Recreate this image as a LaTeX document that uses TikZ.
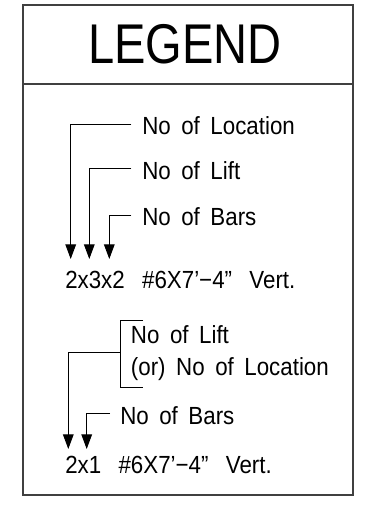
\documentclass[tikz,border=0pt]{standalone}
\usepackage{fontspec}
\setmainfont{Liberation Sans}[FakeStretch=0.9,WordSpace=1.7]
\usetikzlibrary{arrows.meta}

\begin{document}
\begin{tikzpicture}[x=0.75pt,y=-0.75pt,
  frame/.style={draw=black!75,line width=0.8pt},
  lbl/.style={anchor=base west,inner sep=0pt,font=\fontsize{18.6pt}{22pt}\selectfont},
  pointer/.style={line width=0.7pt,-{Triangle[length=11pt,width=8pt]}}]
\useasboundingbox (0,0) rectangle (367,508);
\draw[frame] (23,5) rectangle (353,495);
\draw[frame] (23,84) -- (353,84);
\node[anchor=base,inner sep=0pt,font=\fontsize{42pt}{44pt}\selectfont\addfontfeatures{FakeStretch=0.84}] (legend) at (185,63) {LEGEND};
% first example
\node[lbl] (loc) at (142,134.5) {No of Location};
\node[lbl] (lift) at (142,179) {No of Lift};
\node[lbl] (bars) at (142,225.5) {No of Bars};
\node[lbl] (markA) at (65,288) {2x3x2\hspace{0.7em}\#6X7’−4”\hspace{0.7em}Vert.};
\coordinate (tipA) at (70.7,259);
\coordinate (tipB) at (89.3,259);
\coordinate (tipC) at (109.3,259);
\draw[pointer] ([xshift=-8pt,yshift=1pt]loc.west) -| (tipA);
\draw[pointer] ([xshift=-8pt,yshift=1pt]lift.west) -| (tipB);
\draw[pointer] ([xshift=-8pt,yshift=1pt]bars.west) -| (tipC);
% second example
\node[lbl] (liftor) at (130.7,343.3) {No of Lift};
\node[lbl] (orloc) at (130.7,375) {(or) No of Location};
\node[lbl] (barsB) at (120,424) {No of Bars};
\node[lbl] (markB) at (65,473.3) {2x1\hspace{0.7em}\#6X7’−4”\hspace{0.7em}Vert.};
\draw[line width=0.7pt] (143,320) -- (120,320) -- (120,387) -- (143,387);
\coordinate (brk) at (120,352.5);
\coordinate (tipD) at (68.3,449);
\coordinate (tipE) at (86.7,449);
\draw[pointer] (brk) -| (tipD);
\draw[pointer] ([xshift=-7.5pt,yshift=1pt]barsB.west) -| (tipE);
\end{tikzpicture}
\end{document}
